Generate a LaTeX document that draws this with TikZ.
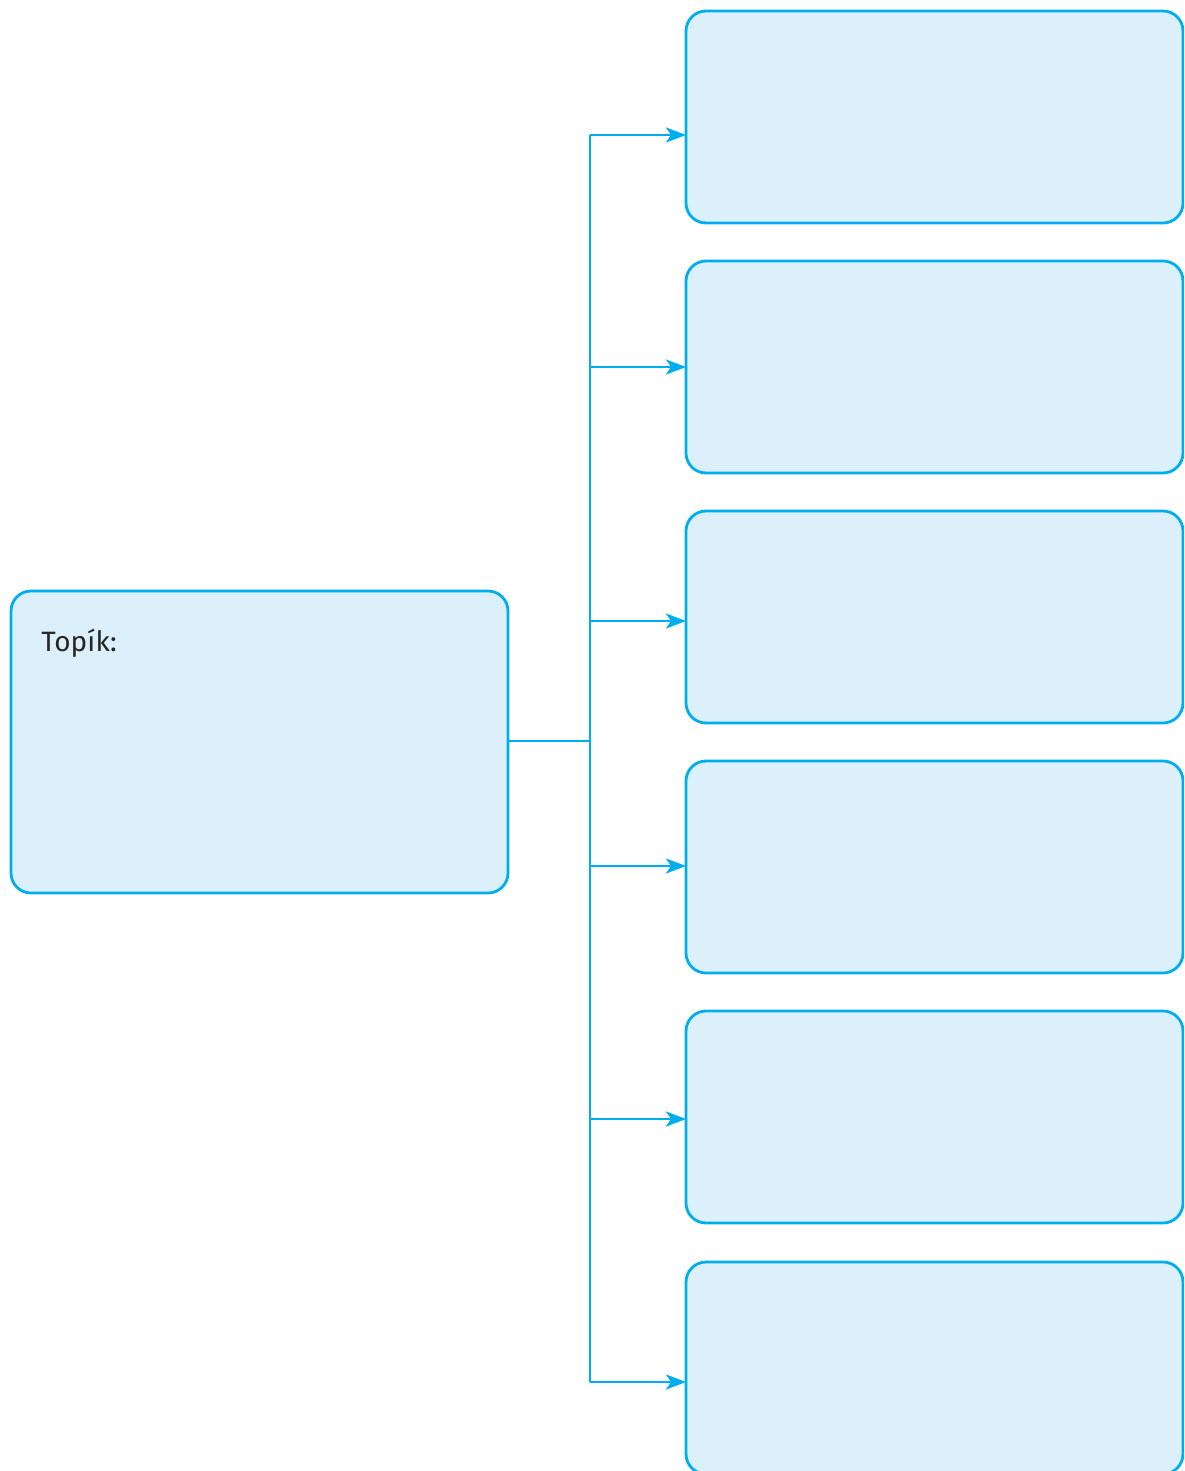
\documentclass[tikz,border=0pt]{standalone}
\usepackage{fontspec}
\setmainfont{Fira Sans}
\usetikzlibrary{arrows.meta}
\definecolor{lc}{HTML}{00AEEF}
\definecolor{fc}{HTML}{DBF0FB}
\begin{document}
\begin{tikzpicture}[x=0.5pt,y=-0.5pt,
  box/.style={draw=lc,fill=fc,line width=1.4pt,rounded corners=10pt,minimum width=248.5pt,inner sep=0pt,outer sep=0pt},
  conn/.style={draw=lc,line width=1.4pt},
  arr/.style={conn,-{Stealth[length=10pt,width=7.5pt,inset=2.5pt]}}]
\useasboundingbox (0,0) rectangle (1184,1471);
\clip (0,0) rectangle (1184,1471);
\node[box,minimum height=151pt] (topic) at (259.5,742) {};
\node[anchor=base west,font=\fontsize{14pt}{17pt}\selectfont,text=black!85,inner sep=0pt] (lbl) at (41,651) {Topík:};
\foreach \i/\y in {1/117,2/367,3/617,4/867,5/1117,6/1368}{
  \node[box,minimum height=106pt] (b\i) at (934.5,\y) {};
}
\coordinate (j) at (590,741);
\coordinate (t1) at (590,135);
\coordinate (t2) at (590,367);
\coordinate (t3) at (590,621);
\coordinate (t4) at (590,866);
\coordinate (t5) at (590,1119);
\coordinate (t6) at (590,1382);
\draw[conn] (topic.east |- j) -- (j);
\draw[conn] (t1) -- (t6);
\foreach \i in {1,...,6}{
  \draw[arr] (t\i) -- (t\i -| b\i.west);
}
\end{tikzpicture}
\end{document}
